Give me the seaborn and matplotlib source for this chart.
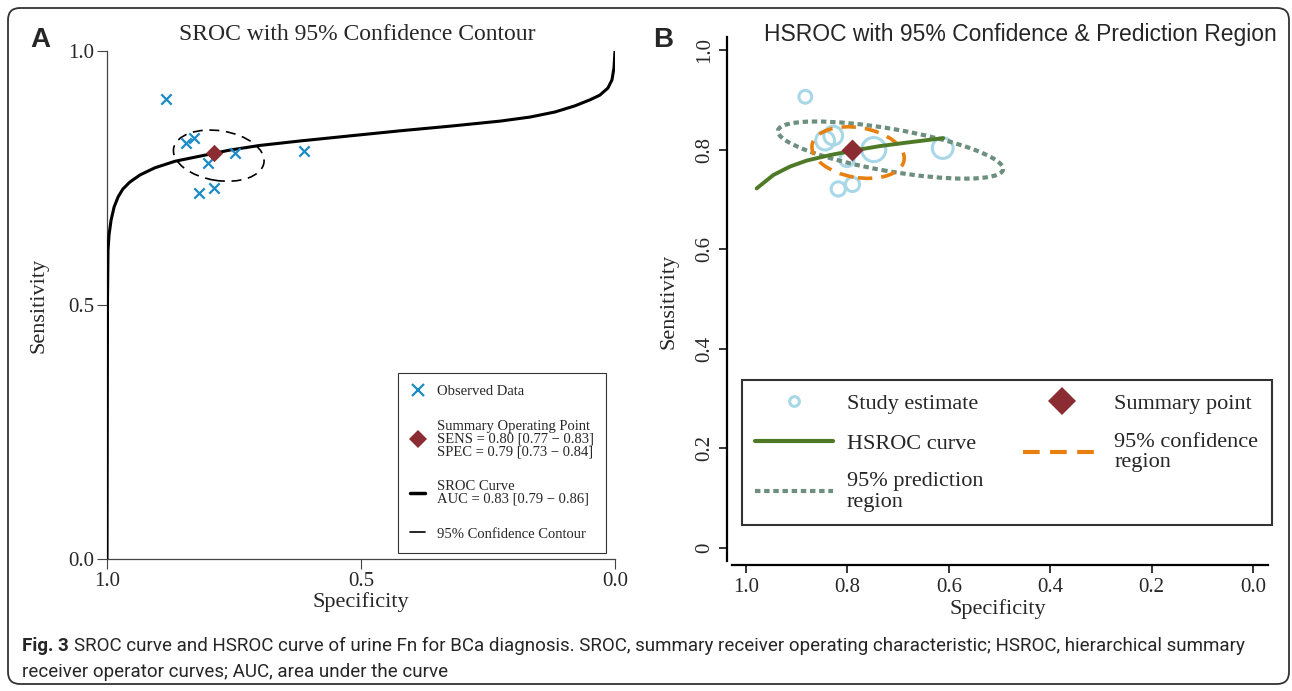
import numpy as np
import pandas as pd
import matplotlib
matplotlib.use('Agg')
import matplotlib.pyplot as plt
import seaborn as sns
from matplotlib.patches import Ellipse, FancyBboxPatch
from matplotlib.lines import Line2D
from matplotlib.transforms import IdentityTransform

sns.set_style('ticks')
plt.rcParams['font.family'] = ['Liberation Serif', 'DejaVu Serif']
plt.rcParams['axes.edgecolor'] = 'black'

# the 8 studies (same in both panels)
study_spec = [0.883, 0.844, 0.828, 0.801, 0.748, 0.612, 0.818, 0.790]
study_sens = [0.906, 0.818, 0.828, 0.780, 0.800, 0.803, 0.721, 0.730]
study_weight = [6.5, 9, 9, 7, 12, 10, 7, 7]

summary_spec = 0.79
summary_sens = 0.80

# SROC curve, panel A
sroc_spec = [1.0, 0.999, 0.998, 0.996, 0.992, 0.986, 0.978, 0.969, 0.955, 0.935,
             0.906, 0.866, 0.817, 0.758, 0.700, 0.619, 0.521, 0.422, 0.325,
             0.226, 0.167, 0.118, 0.079, 0.049, 0.030, 0.014, 0.006, 0.002, 0.0]
sroc_sens = [0.0, 0.51, 0.608, 0.638, 0.667, 0.693, 0.713, 0.728, 0.742, 0.756,
             0.770, 0.783, 0.793, 0.805, 0.814, 0.823, 0.833, 0.843, 0.852,
             0.862, 0.870, 0.880, 0.892, 0.904, 0.913, 0.927, 0.943, 0.967, 1.0]

# 95% confidence contour, panel A (centre spec, centre sens, width, height, angle)
contour_a = [0.780, 0.794, 0.180, 0.098, 9]

# HSROC curve, panel B
hsroc_spec = [0.979, 0.946, 0.913, 0.880, 0.834, 0.788, 0.736, 0.683, 0.611]
hsroc_sens = [0.722, 0.749, 0.766, 0.778, 0.789, 0.798, 0.807, 0.814, 0.823]

conf_b = [0.779, 0.794, 0.184, 0.100, 10]
pred_b = [0.715, 0.799, 0.451, 0.085, 10]

legend_a_labels = ['Observed Data',
                   'Summary Operating Point\nSENS = 0.80 [0.77 \u2212 0.83]\nSPEC = 0.79 [0.73 \u2212 0.84]',
                   'SROC Curve\nAUC = 0.83 [0.79 \u2212 0.86]',
                   '95% Confidence Contour']
legend_b_labels = ['Study estimate', 'HSROC curve', '95% prediction\nregion',
                   'Summary point', '95% confidence\nregion']

ticks_a = [0.0, 0.5, 1.0]
ticks_b = [0.0, 0.2, 0.4, 0.6, 0.8, 1.0]
yticklabels_b = ['0', '0.2', '0.4', '0.6', '0.8', '1.0']
xticklabels_b = ['0.0', '0.2', '0.4', '0.6', '0.8', '1.0']

blue_x = '#1b8ac6'
diamond_col = '#8a2c31'
light_blue = '#a8d7e7'
green = '#4e7a27'
orange = '#e8800f'
grey_green = '#6d8f80'

W, H = 1292, 691
fig = plt.figure(figsize=(W / 100, H / 100), dpi=100)

# ---------------- panel A ----------------
axA = fig.add_axes([107 / W, 1 - 559 / H, 508 / W, 508 / H])
sroc = pd.DataFrame({'spec': sroc_spec, 'sens': sroc_sens})
sns.lineplot(data=sroc, x='spec', y='sens', sort=False, estimator=None,
             color='black', linewidth=2.2, ax=axA, zorder=3)
axA.add_patch(Ellipse((contour_a[0], contour_a[1]), contour_a[2], contour_a[3],
                      angle=contour_a[4], fill=False, ec='black', lw=1.2,
                      ls=(0, (6, 4)), zorder=3))
sns.scatterplot(x=study_spec, y=study_sens, marker='x', s=55, color=blue_x,
                linewidth=1.6, ax=axA, zorder=4)
sns.scatterplot(x=[summary_spec], y=[summary_sens], marker='D', s=78,
                color=diamond_col, linewidth=0, ax=axA, zorder=5)
axA.set_xlim(1, 0)
axA.set_ylim(0, 1)
axA.set_xticks(ticks_a)
axA.set_yticks(ticks_a)
axA.set_xticklabels(['%.1f' % t for t in ticks_a])
axA.set_yticklabels(['%.1f' % t for t in ticks_a])
axA.tick_params(labelsize=15, length=7, width=0.8, color='#444444', pad=2)
for s in ['top', 'right']:
    axA.spines[s].set_visible(False)
for s in ['left', 'bottom']:
    axA.spines[s].set_linewidth(0.9)
    axA.spines[s].set_color('#444444')
axA.set_xlabel('Specificity', fontsize=16, labelpad=1)
axA.set_ylabel('Sensitivity', fontsize=16, labelpad=14)
fig.text(357 / W, 1 - 34 / H, 'SROC with 95% Confidence Contour', fontsize=17,
         ha='center', va='center')

hA = [Line2D([], [], marker='x', ls='', color=blue_x, ms=8, mew=1.6),
      Line2D([], [], marker='D', ls='', color=diamond_col, ms=9, mew=0),
      Line2D([], [], color='black', lw=2.5),
      Line2D([], [], color='black', lw=1.2)]
legA = axA.legend(hA, legend_a_labels, loc='lower left', bbox_to_anchor=(0.573, 0.012),
                  fontsize=10.5, frameon=True, fancybox=False, edgecolor='black',
                  handlelength=1.0, handletextpad=0.8, labelspacing=1.5,
                  borderpad=0.85, borderaxespad=0)
legA.get_frame().set_linewidth(0.8)
for t in legA.get_texts():
    t.set_linespacing(0.95)

# ---------------- panel B ----------------
axB = fig.add_axes([727 / W, 1 - 565 / H, 541 / W, 528 / H])
hs = pd.DataFrame({'spec': hsroc_spec, 'sens': hsroc_sens})
axB.add_patch(Ellipse((pred_b[0], pred_b[1]), pred_b[2], pred_b[3], angle=pred_b[4],
                      fill=False, ec=grey_green, lw=3, ls=(0, (1.3, 0.9)), zorder=3))
axB.add_patch(Ellipse((conf_b[0], conf_b[1]), conf_b[2], conf_b[3], angle=conf_b[4],
                      fill=False, ec=orange, lw=2.6, ls=(0, (4, 2.5)), zorder=3))
sns.scatterplot(x=study_spec, y=study_sens, size=study_weight, sizes=(85, 300),
                marker='o', fc='none', ec=light_blue, linewidth=2.2, legend=False,
                ax=axB, zorder=2)
sns.lineplot(data=hs, x='spec', y='sens', sort=False, estimator=None,
             color=green, linewidth=2.8, ax=axB, zorder=4)
sns.scatterplot(x=[summary_spec], y=[summary_sens], marker='D', s=125,
                color=diamond_col, linewidth=0, ax=axB, zorder=5)
axB.set_xlim(1.0375, -0.0296)
axB.set_ylim(-0.034, 1.026)
axB.spines['left'].set_bounds(-0.026, 1.026)
axB.spines['bottom'].set_bounds(-0.03, 1.028)
for s in ['top', 'right']:
    axB.spines[s].set_visible(False)
for s in ['left', 'bottom']:
    axB.spines[s].set_linewidth(1.6)
axB.set_xticks(ticks_b)
axB.set_xticklabels(xticklabels_b)
axB.set_yticks(ticks_b)
axB.set_yticklabels(yticklabels_b, rotation=90, va='center')
axB.tick_params(labelsize=15, length=6, width=1.3, pad=3)
axB.set_xlabel('Specificity', fontsize=16, labelpad=2)
axB.set_ylabel('Sensitivity', fontsize=16, labelpad=12)
fig.text(1020 / W, 1 - 35 / H, 'HSROC with 95% Confidence & Prediction Region',
         fontsize=16.5, family=['Liberation Sans', 'DejaVu Sans'],
         ha='center', va='center')

hB = [Line2D([], [], marker='o', ls='', mfc='none', mec=light_blue, ms=7, mew=2.2),
      Line2D([], [], color=green, lw=3),
      Line2D([], [], color=grey_green, lw=3, ls=(0, (1.3, 0.9))),
      Line2D([], [], marker='D', ls='', color=diamond_col, ms=14, mew=0),
      Line2D([], [], color=orange, lw=3, ls=(0, (4, 2.5)))]
legB = axB.legend(hB, legend_b_labels, ncol=2, mode='expand', loc='upper left',
                  bbox_to_anchor=(0.028, 0.072, 0.979, 0.278), fontsize=16,
                  frameon=True, fancybox=False, edgecolor='black',
                  handlelength=3.5, handletextpad=0.6, labelspacing=0.85,
                  borderpad=0.6, borderaxespad=0)
legB.get_frame().set_linewidth(1.5)
for t in legB.get_texts():
    t.set_linespacing(1.1)

# panel letters
fig.text(30 / W, 1 - 40 / H, 'A', fontsize=20, fontweight='bold',
         family=['Liberation Sans', 'DejaVu Sans'], va='center')
fig.text(653 / W, 1 - 40 / H, 'B', fontsize=20, fontweight='bold',
         family=['Liberation Sans', 'DejaVu Sans'], va='center')

# outer frame
fig.add_artist(FancyBboxPatch((8, 7), 1281, 676, boxstyle='round,pad=0,rounding_size=12',
                              transform=IdentityTransform(), fill=False,
                              ec='#333333', lw=1.3))

# caption
cap_font = ['Roboto', 'DejaVu Sans']
t1 = fig.text(22 / W, 1 - 646 / H, 'Fig. 3', fontsize=13.5, fontweight='bold',
              family=cap_font, va='center')
fig.canvas.draw()
bb = t1.get_window_extent()
fig.text((bb.x1 + 5) / W, 1 - 646 / H,
         'SROC curve and HSROC curve of urine Fn for BCa diagnosis. SROC, summary receiver '
         'operating characteristic; HSROC, hierarchical summary',
         fontsize=13.5, family=cap_font, va='center')
fig.text(22 / W, 1 - 672 / H, 'receiver operator curves; AUC, area under the curve',
         fontsize=13.5, family=cap_font, va='center')

fig.savefig('out.png', dpi=100, facecolor='white')
